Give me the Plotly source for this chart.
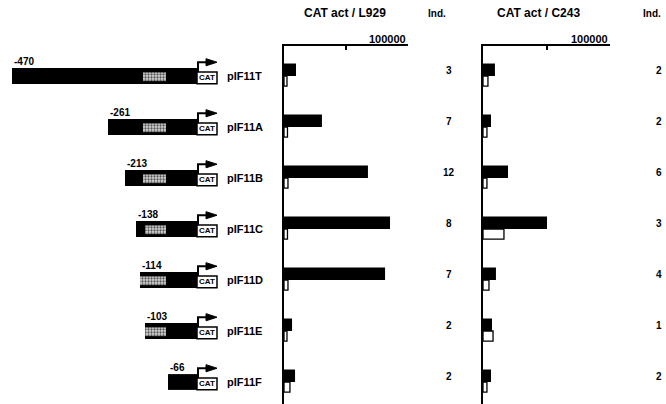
import plotly.graph_objects as go

W, H = 666, 404

# ---- data ----
constructs = ["pIF11T", "pIF11A", "pIF11B", "pIF11C", "pIF11D", "pIF11E", "pIF11F"]
start_labels = ["-470", "-261", "-213", "-138", "-114", "-103", "-66"]
l929_induced = [9700, 30600, 67700, 85500, 81500, 6500, 8900]
l929_basal = [2400, 2800, 3200, 2800, 3200, 2400, 4800]
l929_ind = ["3", "7", "12", "8", "7", "2", "2"]
c243_induced = [9400, 6300, 19700, 50400, 10200, 7100, 6300]
c243_basal = [3900, 3100, 3100, 16500, 4700, 7900, 3100]
c243_ind = ["2", "2", "6", "3", "4", "1", "2"]
axis_max = 100000
axis_label = "100000"

# ---- diagram layout (pixel units on hidden axis) ----
diag_start = [12, 108, 125, 136, 140, 145, 168]
hatch_start = [143, 143, 143, 145, 140, 145, None]
HATCH_END = 166
BAR_END = 197
CAT_W = 20

rows = list(range(len(constructs)))
ROW0, ROWSTEP, TOP = 76, 51, 46
ydom_top = (H - TOP) / H
yr = [(H - ROW0) / ROWSTEP, (TOP - ROW0) / ROWSTEP]

FONT = "Liberation Sans"
def f(size):
    return dict(family=FONT, size=size, color="black", weight="bold")

fig = go.Figure()

# activity bars
for xa, ya, ind_vals, bas_vals in [("x", "y", l929_induced, l929_basal),
                                   ("x2", "y2", c243_induced, c243_basal)]:
    fig.add_trace(go.Bar(y=rows, x=ind_vals, orientation="h", xaxis=xa, yaxis=ya,
                         width=0.245, offset=-0.245,
                         marker=dict(color="black", line=dict(width=0)), showlegend=False))
    fig.add_trace(go.Bar(y=rows, x=bas_vals, orientation="h", xaxis=xa, yaxis=ya,
                         width=0.2, offset=0.0,
                         marker=dict(color="white", line=dict(color="black", width=1.3)),
                         showlegend=False))

# construct diagram bars
fig.add_trace(go.Bar(y=rows, x=[BAR_END - s for s in diag_start], base=diag_start,
                     orientation="h", xaxis="x3", yaxis="y3", width=0.31, offset=-0.155,
                     marker=dict(color="black", line=dict(width=0)), showlegend=False))
hr = [r for r in rows if hatch_start[r] is not None]
fig.add_trace(go.Bar(y=hr, x=[HATCH_END - hatch_start[r] for r in hr],
                     base=[hatch_start[r] for r in hr],
                     orientation="h", xaxis="x3", yaxis="y3", width=0.17, offset=-0.07,
                     marker=dict(color="#b0b0b0", line=dict(width=0),
                                 pattern=dict(shape=".", fgcolor="#555", bgcolor="#d8d8d8",
                                              size=3, solidity=0.45)),
                     showlegend=False))
fig.add_trace(go.Bar(y=rows, x=[CAT_W] * len(rows), base=[BAR_END] * len(rows),
                     orientation="h", xaxis="x3", yaxis="y3", width=0.23, offset=-0.08,
                     marker=dict(color="white", line=dict(color="black", width=1.5)),
                     showlegend=False))

shapes = []
ann = []
for r in rows:
    shapes.append(dict(type="path", xref="x3", yref="y3",
                       path=f"M {BAR_END+1},{r-0.08} L {BAR_END+1},{r-0.27} L {BAR_END+10},{r-0.27}",
                       line=dict(color="black", width=2)))
    shapes.append(dict(type="path", xref="x3", yref="y3",
                       path=f"M {BAR_END+9},{r-0.34} L {BAR_END+20},{r-0.27} L {BAR_END+9},{r-0.2} Z",
                       fillcolor="black", line=dict(color="black", width=1)))
    ann.append(dict(x=BAR_END + CAT_W / 2, y=r + 0.035, xref="x3", yref="y3", text="CAT",
                    showarrow=False, font=f(8), xanchor="center", yanchor="middle"))
    ann.append(dict(x=diag_start[r], y=r - 0.155, xref="x3", yref="y3", text=start_labels[r],
                    showarrow=False, font=f(10), xanchor="left", yanchor="bottom", yshift=-1))
    ann.append(dict(x=BAR_END + CAT_W + 8, y=r, xref="x3", yref="y3", text=constructs[r],
                    showarrow=False, font=f(11), xanchor="left", yanchor="middle"))
    ann.append(dict(x=449 / W, y=r - 0.1, xref="paper", yref="y", text=l929_ind[r],
                    showarrow=False, font=f(10), xanchor="center", yanchor="middle"))
    ann.append(dict(x=659 / W, y=r - 0.1, xref="paper", yref="y", text=c243_ind[r],
                    showarrow=False, font=f(10), xanchor="center", yanchor="middle"))

hy = 1 - 13 / H
ann += [
    dict(x=345 / W, y=hy, xref="paper", yref="paper", text="CAT act / L929", showarrow=False,
         font=f(12), xanchor="center", yanchor="middle"),
    dict(x=437 / W, y=hy, xref="paper", yref="paper", text="Ind.", showarrow=False,
         font=f(10), xanchor="center", yanchor="middle"),
    dict(x=538 / W, y=hy, xref="paper", yref="paper", text="CAT act / C243", showarrow=False,
         font=f(12), xanchor="center", yanchor="middle"),
    dict(x=652 / W, y=hy, xref="paper", yref="paper", text="Ind.", showarrow=False,
         font=f(10), xanchor="center", yanchor="middle"),
    dict(x=axis_max, y=1 - 39 / H, xref="x", yref="paper", text=axis_label, showarrow=False,
         font=f(11), xanchor="right", yanchor="middle"),
    dict(x=axis_max, y=1 - 39 / H, xref="x2", yref="paper", text=axis_label, showarrow=False,
         font=f(11), xanchor="right", yanchor="middle"),
]

xcommon = dict(range=[0, axis_max], side="top", showline=True, linecolor="black", linewidth=2,
               ticks="inside", tickvals=[axis_max / 2, axis_max], ticklen=4, tickwidth=1.5,
               tickcolor="black", showticklabels=False, showgrid=False, zeroline=False,
               automargin=False)
ycommon = dict(range=yr, domain=[0, ydom_top], showline=True, linecolor="black", linewidth=2,
               showticklabels=False, ticks="", showgrid=False, zeroline=False,
               automargin=False)

fig.update_layout(
    template="none",
    width=W, height=H, margin=dict(l=0, r=0, t=0, b=0, autoexpand=False),
    paper_bgcolor="white", plot_bgcolor="rgba(0,0,0,0)", barmode="overlay",
    xaxis=dict(domain=[284 / W, 408 / W], anchor="y", **xcommon),
    xaxis2=dict(domain=[483 / W, 610 / W], anchor="y2", **xcommon),
    xaxis3=dict(domain=[0, 270 / W], range=[0, 270], anchor="y3", visible=False,
                automargin=False),
    yaxis=dict(anchor="x", **ycommon),
    yaxis2=dict(anchor="x2", matches="y", **ycommon),
    yaxis3=dict(anchor="x3", range=yr, domain=[0, ydom_top], visible=False, automargin=False),
    shapes=shapes, annotations=ann,
)

fig.write_html("out.html", config={"displayModeBar": False},
               post_script="document.body.style.margin='0px';document.body.style.overflow='hidden';")
